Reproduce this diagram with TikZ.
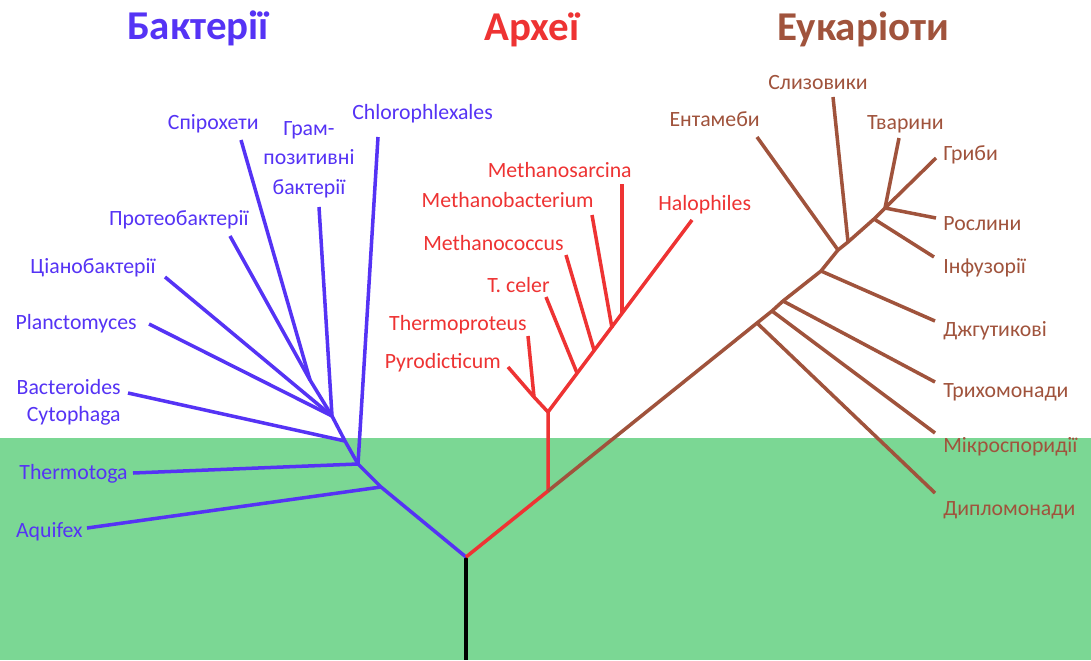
\documentclass[tikz,border=0pt]{standalone}
\usepackage{fontspec}
\setmainfont{Carlito}
\usepackage{xcolor}
\usetikzlibrary{positioning}

\definecolor{bactblue}{HTML}{5533F5}
\definecolor{archred}{HTML}{EE3333}
\definecolor{eukbrown}{HTML}{A0533C}
\definecolor{ground}{HTML}{7BD794}

\begin{document}
\begin{tikzpicture}[x=0.02cm,y=-0.02cm,line join=round,
  branch/.style={line width=2pt},
  leaf/.style={inner sep=0pt,font=\fontsize{12.4}{16.7}\selectfont},
  domtitle/.style={inner sep=0pt,font=\fontsize{23.3}{28}\selectfont\bfseries}]

  % background
  \fill[white] (0,0) rectangle (1091,660);
  \fill[ground] (0,438) rectangle (1091,660);
  \useasboundingbox (0,0) rectangle (1091,660);

  % domain titles
  \node[domtitle,text=bactblue,anchor=base] (tbac) at (198,39) {Бактерії};
  \node[domtitle,text=archred,anchor=base] (tarc) at (532,40) {Археї};
  \node[domtitle,text=eukbrown,anchor=base] (teuk) at (863,40) {Еукаріоти};

  % root
  \coordinate (root) at (466,557);
  \coordinate (base) at (466,660);
  \draw[branch,black] (root) -- (base);

  % bacteria
  \coordinate (bA) at (381,487);
  \coordinate (bT) at (358,464);
  \coordinate (bB) at (345,441);
  \coordinate (bC) at (332,416);
  \coordinate (bP) at (310,380);
  \coordinate (eAqu) at (87,528);
  \coordinate (eThe) at (133,473);
  \coordinate (eChl) at (378,137);
  \coordinate (eBac) at (128,393);
  \coordinate (ePla) at (149,324);
  \coordinate (eCya) at (165,277);
  \coordinate (eGra) at (319,207);
  \coordinate (ePro) at (230,236);
  \coordinate (eSpi) at (241,140);
  \begin{scope}[branch,draw=bactblue]
    \draw (root) -- (bA) -- (bT) -- (bB) -- (bC) -- (bP) -- (eSpi);
    \foreach \j/\e in {bA/eAqu, bT/eThe, bT/eChl, bB/eBac, bC/ePla,
                       bC/eCya, bC/eGra, bP/ePro}
      \draw (\j) -- (\e);
  \end{scope}
  \begin{scope}[text=bactblue]
    \node[leaf,anchor=base east] (aqu) at (83,537) {Aquifex};
    \node[leaf,anchor=base east] (the) at (128,479) {Thermotoga};
    \node[leaf,anchor=base east,align=right,
          font=\fontsize{12.4}{15.3}\selectfont] (bac) at (121,421) {Bacteroides\\Cytophaga};
    \node[leaf,anchor=base east] (pla) at (137,329) {Planctomyces};
    \node[leaf,anchor=base east] (cya) at (156,273) {Ціанобактерії};
    \node[leaf,anchor=base east] (pro) at (249,225) {Протеобактерії};
    \node[leaf,anchor=base east] (spi) at (259,129) {Спірохети};
    \node[leaf,anchor=base,align=center] (gra) at (309,194) {Грам-\\позитивні\\бактерії};
    \node[leaf,anchor=base west] (chl) at (352,119) {Chlorophlexales};
  \end{scope}

  % archaea
  \coordinate (rA) at (548,491);
  \coordinate (rJ) at (548,412);
  \coordinate (rK) at (534,397);
  \coordinate (rTc) at (577,373);
  \coordinate (rMc) at (594,350);
  \coordinate (rMb) at (612,328);
  \coordinate (rMs) at (622,313);
  \coordinate (ePyr) at (508,367);
  \coordinate (eTpr) at (528,336);
  \coordinate (eTce) at (546,297);
  \coordinate (eMco) at (566,255);
  \coordinate (eMba) at (592,215);
  \coordinate (eMsa) at (622,184);
  \coordinate (eHal) at (692,220);
  \begin{scope}[branch,draw=archred]
    \draw (root) -- (rA) -- (rJ) -- (eHal);
    \draw (rJ) -- (rK) -- (ePyr);
    \foreach \j/\e in {rK/eTpr, rTc/eTce, rMc/eMco, rMb/eMba, rMs/eMsa}
      \draw (\j) -- (\e);
  \end{scope}
  \begin{scope}[text=archred]
    \node[leaf,anchor=base east] (pyr) at (501,368) {Pyrodicticum};
    \node[leaf,anchor=base east] (tpr) at (527,330) {Thermoproteus};
    \node[leaf,anchor=base east] (tce) at (550,292) {T. celer};
    \node[leaf,anchor=base east] (mco) at (564,250) {Methanococcus};
    \node[leaf,anchor=base east] (mba) at (594,207) {Methanobacterium};
    \node[leaf,anchor=base east] (msa) at (632,177) {Methanosarcina};
    \node[leaf,anchor=base west] (hal) at (658,210) {Halophiles};
  \end{scope}

  % eukaryotes
  \coordinate (kD) at (757,323);
  \coordinate (kM) at (772,311);
  \coordinate (kT) at (783,301);
  \coordinate (kF) at (821,271);
  \coordinate (kE) at (838,250);
  \coordinate (kS) at (848,242);
  \coordinate (kI) at (874,219);
  \coordinate (kC) at (885,208);
  \coordinate (eDip) at (935,493);
  \coordinate (eMic) at (935,433);
  \coordinate (eTri) at (935,382);
  \coordinate (eDzh) at (935,321);
  \coordinate (eEnt) at (757,137);
  \coordinate (eSli) at (833,97);
  \coordinate (eInf) at (934,257);
  \coordinate (eRos) at (936,218);
  \coordinate (eHry) at (936,158);
  \coordinate (eTva) at (899,138);
  \begin{scope}[branch,draw=eukbrown]
    \draw (rA) -- (kD) -- (kM) -- (kT) -- (kF) -- (kE) -- (kS) -- (kI) -- (kC) -- (eHry);
    \foreach \j/\e in {kD/eDip, kM/eMic, kT/eTri, kF/eDzh, kE/eEnt,
                       kS/eSli, kI/eInf, kC/eRos, kC/eTva}
      \draw (\j) -- (\e);
  \end{scope}
  \begin{scope}[text=eukbrown]
    \node[leaf,anchor=base west] (dip) at (943,515) {Дипломонади};
    \node[leaf,anchor=base west] (mic) at (943,452) {Мікроспоридії};
    \node[leaf,anchor=base west] (tri) at (943,397) {Трихомонади};
    \node[leaf,anchor=base west] (dzh) at (943,336) {Джгутикові};
    \node[leaf,anchor=base west] (inf) at (943,273) {Інфузорії};
    \node[leaf,anchor=base west] (ros) at (943,230) {Рослини};
    \node[leaf,anchor=base west] (hry) at (943,160) {Гриби};
    \node[leaf,anchor=base east] (tva) at (944,129) {Тварини};
    \node[leaf,anchor=base east] (sli) at (868,89) {Слизовики};
    \node[leaf,anchor=base east] (ent) at (760,126) {Ентамеби};
  \end{scope}

\end{tikzpicture}
\end{document}
